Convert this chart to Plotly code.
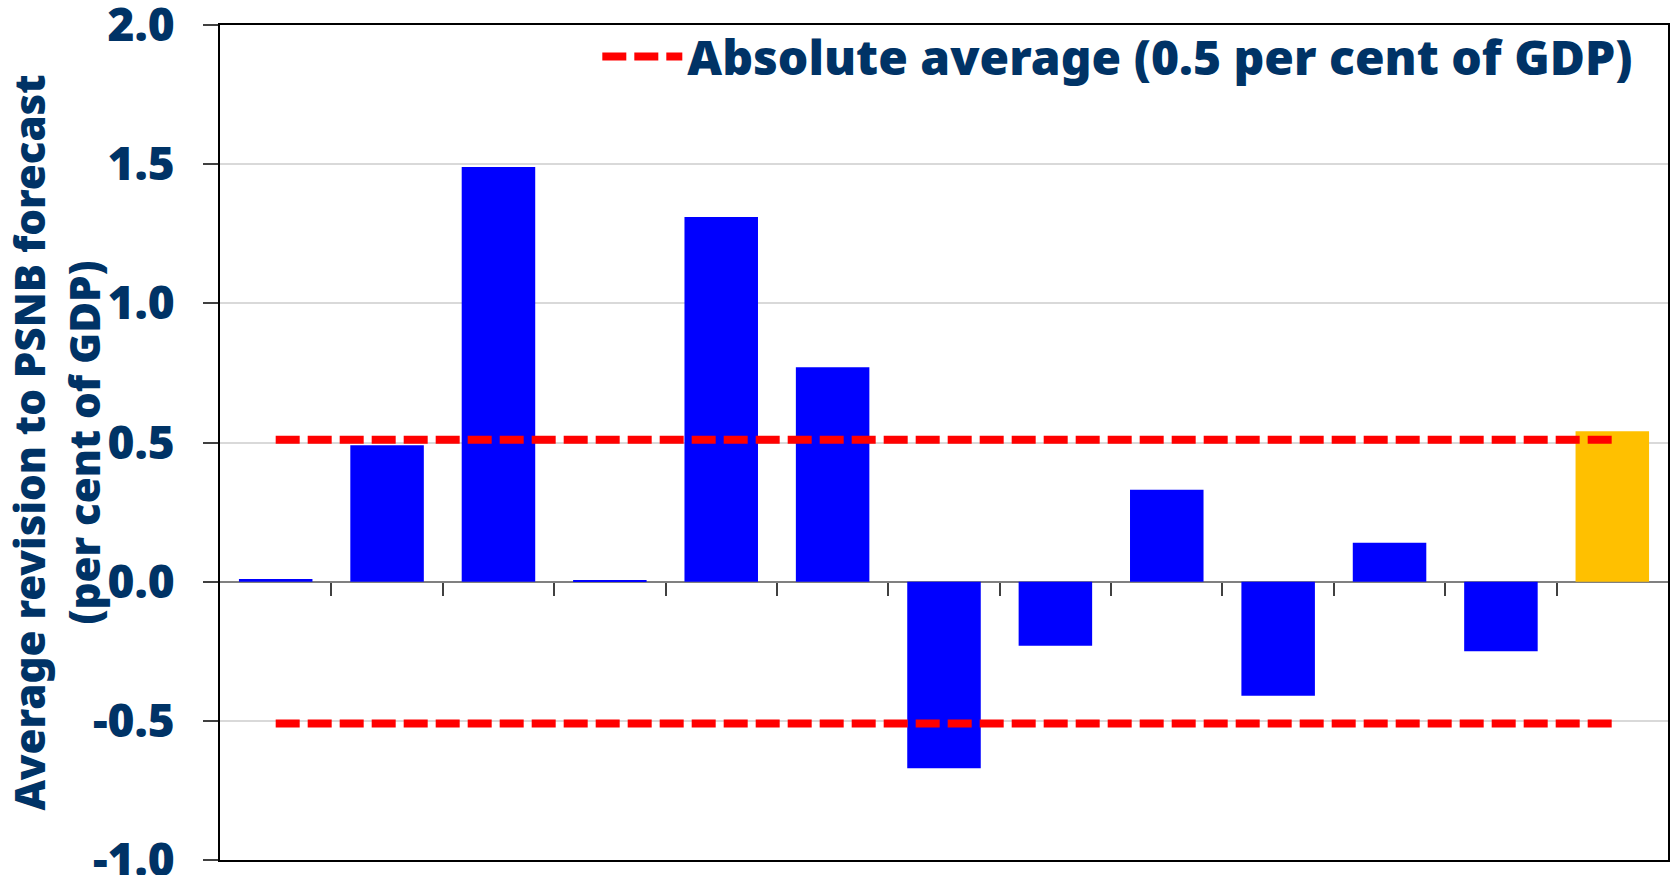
import plotly.graph_objects as go

# ---- data ----
categories = [f"F{i}" for i in range(1, 14)]
revisions = [0.01, 0.49, 1.49, 0.005, 1.31, 0.77, -0.67, -0.23, 0.33, -0.41, 0.14, -0.25, 0.54]
abs_average = 0.51
legend_label = "Absolute average (0.5 per cent of GDP)"
y_title = "Average revision to PSNB forecast<br>(per cent of GDP)"
y_tickvals = [-1.0, -0.5, 0.0, 0.5, 1.0, 1.5, 2.0]
y_ticktext = ["-1.0", "-0.5", "0.0", "0.5", "1.0", "1.5", "2.0"]

# ---- style ----
NAVY = "#003366"
BLUE = "#0000FF"
ORANGE = "#FFC000"
FONT = "'Noto Sans Black', 'Noto Sans ExtraBold', 'Noto Sans', sans-serif"
W = 900
bar_colors = [ORANGE if i == len(revisions) - 1 else BLUE for i in range(len(revisions))]
y_range = [-1.0, 2.0]
x_range = [-0.5, len(categories) - 0.5]

fig = go.Figure()
fig.add_trace(go.Bar(
    x=categories, y=revisions, marker=dict(color=bar_colors, line=dict(width=0)),
    showlegend=False,
))
for sign, show in [(1, True), (-1, False)]:
    fig.add_trace(go.Scatter(
        x=[categories[0], categories[-1]], y=[sign * abs_average] * 2,
        mode="lines", line=dict(color="#FF0000", width=8, dash="24px,8px"),
        name=legend_label, showlegend=show,
    ))

boundaries = [i + 0.5 for i in range(len(categories) - 1)]
zero_pos = (0 - y_range[0]) / (y_range[1] - y_range[0])

fig.update_layout(
    width=1671, height=875,
    margin=dict(l=220, r=3, t=25, b=15, autoexpand=False),
    plot_bgcolor="white", paper_bgcolor="white",
    bargap=0.34,
    font=dict(family=FONT, color=NAVY, size=44, weight=W),
    xaxis=dict(
        range=x_range, showticklabels=False, ticks="", showgrid=False, automargin=False,
        showline=True, linecolor="black", linewidth=2, mirror=True, zeroline=False,
    ),
    xaxis2=dict(
        overlaying="x", anchor="free", position=zero_pos, range=x_range, automargin=False,
        tickvals=boundaries, ticks="outside", ticklen=13, tickwidth=1.5, tickcolor="#404040",
        showticklabels=False, showgrid=False, showline=False, zeroline=False,
    ),
    yaxis=dict(
        range=y_range, tickvals=y_tickvals, ticktext=y_ticktext, automargin=False,
        ticks="outside", ticklen=15, tickwidth=1.5, tickcolor="#404040",
        ticklabelstandoff=19, ticklabeloverflow="allow",
        tickfont=dict(family=FONT, size=46, color=NAVY, weight=W),
        showgrid=True, gridcolor="#D9D9D9", gridwidth=1.5,
        zeroline=True, zerolinecolor="#808080", zerolinewidth=2,
        showline=True, linecolor="black", linewidth=2, mirror=True,
        title=dict(text=y_title, font=dict(family=FONT, size=42, color=NAVY, weight=W), standoff=0),
    ),
    legend=dict(
        x=0.9795, y=0.962, xanchor="right", yanchor="middle",
        bgcolor="rgba(0,0,0,0)", font=dict(family=FONT, size=48, color=NAVY, weight=W),
        itemwidth=80,
    ),
)
# dummy trace to activate xaxis2
fig.add_trace(go.Scatter(x=[], y=[], xaxis="x2", showlegend=False))

fig.write_html("out.html")
